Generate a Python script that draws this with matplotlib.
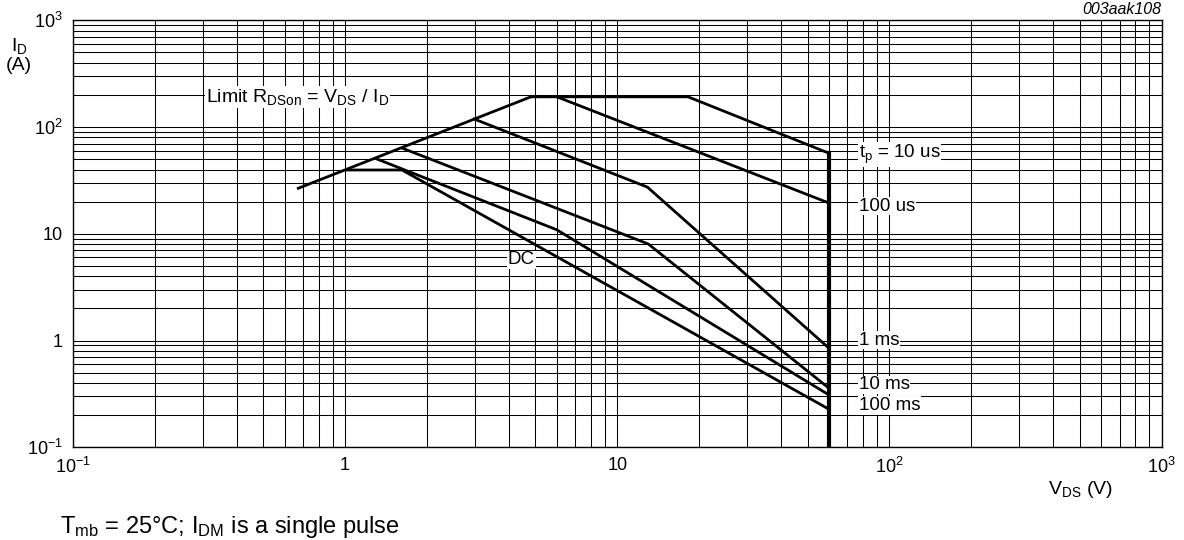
import matplotlib
matplotlib.use('Agg')
import matplotlib.pyplot as plt
from matplotlib.ticker import LogLocator, FixedLocator, NullFormatter

plt.rcParams['font.family'] = ['Liberation Sans', 'DejaVu Sans']
plt.rcParams['mathtext.fontset'] = 'custom'
plt.rcParams['mathtext.rm'] = 'Liberation Sans'
plt.rcParams['mathtext.it'] = 'Liberation Sans:italic'

# safe operating area curves (V_DS in V, I_D in A)
rdson_v = [0.674, 4.82]
rdson_i = [26.7, 192]

tp10us_v = [4.82, 18.2, 60]
tp10us_i = [192, 192, 56.8]

tp100us_v = [6.0, 60]
tp100us_i = [192, 19.4]

tp1ms_v = [2.98, 12.9, 60]
tp1ms_i = [119, 27.4, 0.846]

tp10ms_v = [1.63, 13.0, 60]
tp10ms_i = [63.2, 8.03, 0.357]

tp100ms_v = [1.31, 6.0, 60]
tp100ms_i = [50.2, 10.9, 0.309]

dc_v = [1.015, 1.62, 60]
dc_i = [39.6, 39.6, 0.227]

vmax_v = [60, 60]
vmax_i = [56.8, 0.1]

xticks = [0.1, 1, 10, 100, 1000]
xlabels = ['$10^{-1}$', '1', '10', '$10^{2}$', '$10^{3}$']
yticks = [0.1, 1, 10, 100, 1000]
ylabels = ['$10^{-1}$', '1', '10', '$10^{2}$', '$10^{3}$']

fig = plt.figure(figsize=(11.84, 5.40), dpi=100)
ax = fig.add_axes([0.0614, 0.1717, 0.9198, 0.7907])

ax.set_xscale('log')
ax.set_yscale('log')
ax.set_xlim(0.1, 1000)
ax.set_ylim(0.1, 1000)

ax.xaxis.set_major_locator(FixedLocator(xticks))
ax.yaxis.set_major_locator(FixedLocator(yticks))
ax.xaxis.set_minor_locator(LogLocator(base=10, subs=range(2, 10)))
ax.yaxis.set_minor_locator(LogLocator(base=10, subs=range(2, 10)))
ax.xaxis.set_minor_formatter(NullFormatter())
ax.yaxis.set_minor_formatter(NullFormatter())
ax.set_xticklabels(xlabels)
ax.set_yticklabels(ylabels)
ax.tick_params(which='both', length=0, labelsize=13)
ax.tick_params(axis='x', pad=7)
ax.tick_params(axis='y', pad=7)

ax.grid(True, which='both', color='black', lw=0.75)
for s in ax.spines.values():
    s.set_linewidth(1.0)

lw = 2.0
for v, i in [(rdson_v, rdson_i), (tp10us_v, tp10us_i), (tp100us_v, tp100us_i),
             (tp1ms_v, tp1ms_i), (tp10ms_v, tp10ms_i), (tp100ms_v, tp100ms_i),
             (dc_v, dc_i)]:
    ax.plot(v, i, color='black', lw=lw, solid_joinstyle='miter', zorder=3)
ax.plot(vmax_v, vmax_i, color='black', lw=3.0, zorder=3)

box = dict(facecolor='white', edgecolor='none', pad=0.5)
fs = 13.5
ax.text(0.309, 191, r'Limit R$_{\mathrm{DSon}}$ = V$_{\mathrm{DS}}$ / I$_{\mathrm{D}}$',
        fontsize=14, va='center', ha='left', bbox=box, zorder=4)
ax.text(77, 55, r't$_{\mathrm{p}}$ = 10 us', fontsize=fs, va='center', ha='left', bbox=box, zorder=4)
ax.text(77, 18.2, '100 us', fontsize=fs, va='center', ha='left', bbox=box, zorder=4)
ax.text(3.97, 5.7, 'DC', fontsize=fs, va='center', ha='left', bbox=box, zorder=4)
ax.text(77, 1.01, '1 ms', fontsize=fs, va='center', ha='left', bbox=box, zorder=4)
ax.text(77, 0.384, '10 ms', fontsize=fs, va='center', ha='left', bbox=box, zorder=4)
ax.text(77, 0.247, '100 ms', fontsize=fs, va='center', ha='left', bbox=box, zorder=4)

fig.text(1161 / 1184, 1 - 9 / 540, '003aak108', fontsize=11.5, style='italic',
         ha='right', va='center')
fig.text(19 / 1184, 1 - 46 / 540, r'I$_{\mathrm{D}}$', fontsize=14, ha='center', va='center')
fig.text(19 / 1184, 1 - 66 / 540, '(A)', fontsize=14, ha='center', va='center')
fig.text(1080 / 1184, 1 - 489 / 540, r'V$_{\mathrm{DS}}$ (V)', fontsize=14, ha='center', va='center')
fig.text(60 / 1184, 1 - 527 / 540, r'T$_{\mathrm{mb}}$ = 25°C; I$_{\mathrm{DM}}$ is a single pulse',
         fontsize=17, ha='left', va='center')

fig.savefig('out.png', dpi=100)
